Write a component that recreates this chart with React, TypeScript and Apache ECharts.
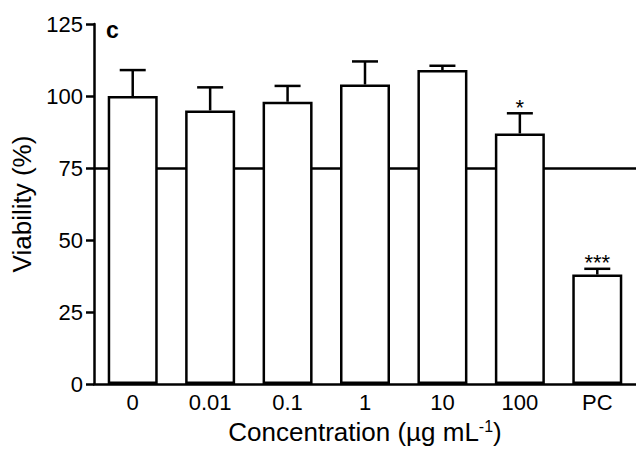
import React, { useEffect, useRef } from "react";
import * as echarts from "echarts";

const categories = ["0", "0.01", "0.1", "1", "10", "100", "PC"];
const means = [100, 95, 98, 104, 109, 87, 38];
const upperErrors = [109, 103, 103.5, 112, 110.5, 94, 40];
const significance = ["", "", "", "", "", "*", "***"];
const yMin = 0;
const yMax = 125;
const yInterval = 25;
const threshold = 75;

const FONT = "Liberation Sans";

export default function App() {
  const ref = useRef<HTMLDivElement>(null);

  useEffect(() => {
    if (!ref.current) return;
    const chart = echarts.init(ref.current, null, { renderer: "svg" });
    const errData = means.map((m, i) => [i, m, upperErrors[i]]);
    chart.setOption({
      animation: false,
      backgroundColor: "#ffffff",
      grid: { left: 94, right: 0, top: 24, bottom: 72, containLabel: false },
      graphic: [
        {
          type: "text",
          x: 106,
          y: 30,
          style: { text: "c", font: `bold 23px ${FONT}`, fill: "#000", verticalAlign: "middle" },
        },
      ],
      xAxis: {
        type: "category",
        data: categories,
        boundaryGap: true,
        axisLine: { lineStyle: { color: "#000", width: 2.5 } },
        axisTick: { alignWithLabel: true, length: 8, lineStyle: { color: "#000", width: 2.5 } },
        axisLabel: { color: "#000", fontSize: 22, fontFamily: FONT, margin: 7 },
        name: "Concentration (µg mL{sup|-1})",
        nameLocation: "middle",
        nameGap: 34,
        nameTextStyle: {
          color: "#000",
          fontSize: 26,
          fontFamily: FONT,
          rich: {
            sup: { fontSize: 16, fontFamily: FONT, color: "#000", verticalAlign: "top", padding: [0, 0, 12, 0] },
          },
        },
      },
      yAxis: {
        type: "value",
        min: yMin,
        max: yMax,
        interval: yInterval,
        axisLine: { show: true, lineStyle: { color: "#000", width: 2.5 } },
        axisTick: { show: true, length: 8, lineStyle: { color: "#000", width: 2.5 } },
        splitLine: { show: false },
        axisLabel: { color: "#000", fontSize: 22, fontFamily: FONT, margin: 11 },
        name: "Viability (%)",
        nameLocation: "middle",
        nameGap: 55,
        nameTextStyle: { color: "#000", fontSize: 26, fontFamily: FONT },
      },
      series: [
        {
          type: "line",
          data: [],
          z: 1,
          markLine: {
            silent: true,
            z: 1,
            symbol: "none",
            label: { show: false },
            lineStyle: { color: "#000", width: 2.5, type: "solid" },
            data: [{ yAxis: threshold }],
          },
        },
        {
          type: "bar",
          data: means,
          barWidth: 50,
          z: 3,
          itemStyle: { color: "#ffffff", borderColor: "#000", borderWidth: 2.5 },
        },
        {
          type: "custom",
          z: 4,
          data: errData,
          renderItem: (params: any, api: any) => {
            const x = api.value(0);
            const top = api.coord([x, api.value(1)]);
            const cap = api.coord([x, api.value(2)]);
            const half = 13;
            const children: any[] = [
              {
                type: "line",
                shape: { x1: top[0], y1: top[1], x2: cap[0], y2: cap[1] },
                style: { stroke: "#000", lineWidth: 2.5 },
              },
              {
                type: "line",
                shape: { x1: cap[0] - half, y1: cap[1], x2: cap[0] + half, y2: cap[1] },
                style: { stroke: "#000", lineWidth: 2.5 },
              },
            ];
            const s = significance[params.dataIndex];
            if (s) {
              children.push({
                type: "text",
                style: {
                  text: s,
                  x: cap[0],
                  y: cap[1] + 5,
                  align: "center",
                  verticalAlign: "bottom",
                  font: `22px ${FONT}`,
                  fill: "#000",
                },
              });
            }
            return { type: "group", children };
          },
        },
      ],
    });
    return () => chart.dispose();
  }, []);

  return (
    <div
      ref={ref}
      style={{ position: "fixed", left: 0, top: 0, width: 636, height: 456 }}
    />
  );
}
